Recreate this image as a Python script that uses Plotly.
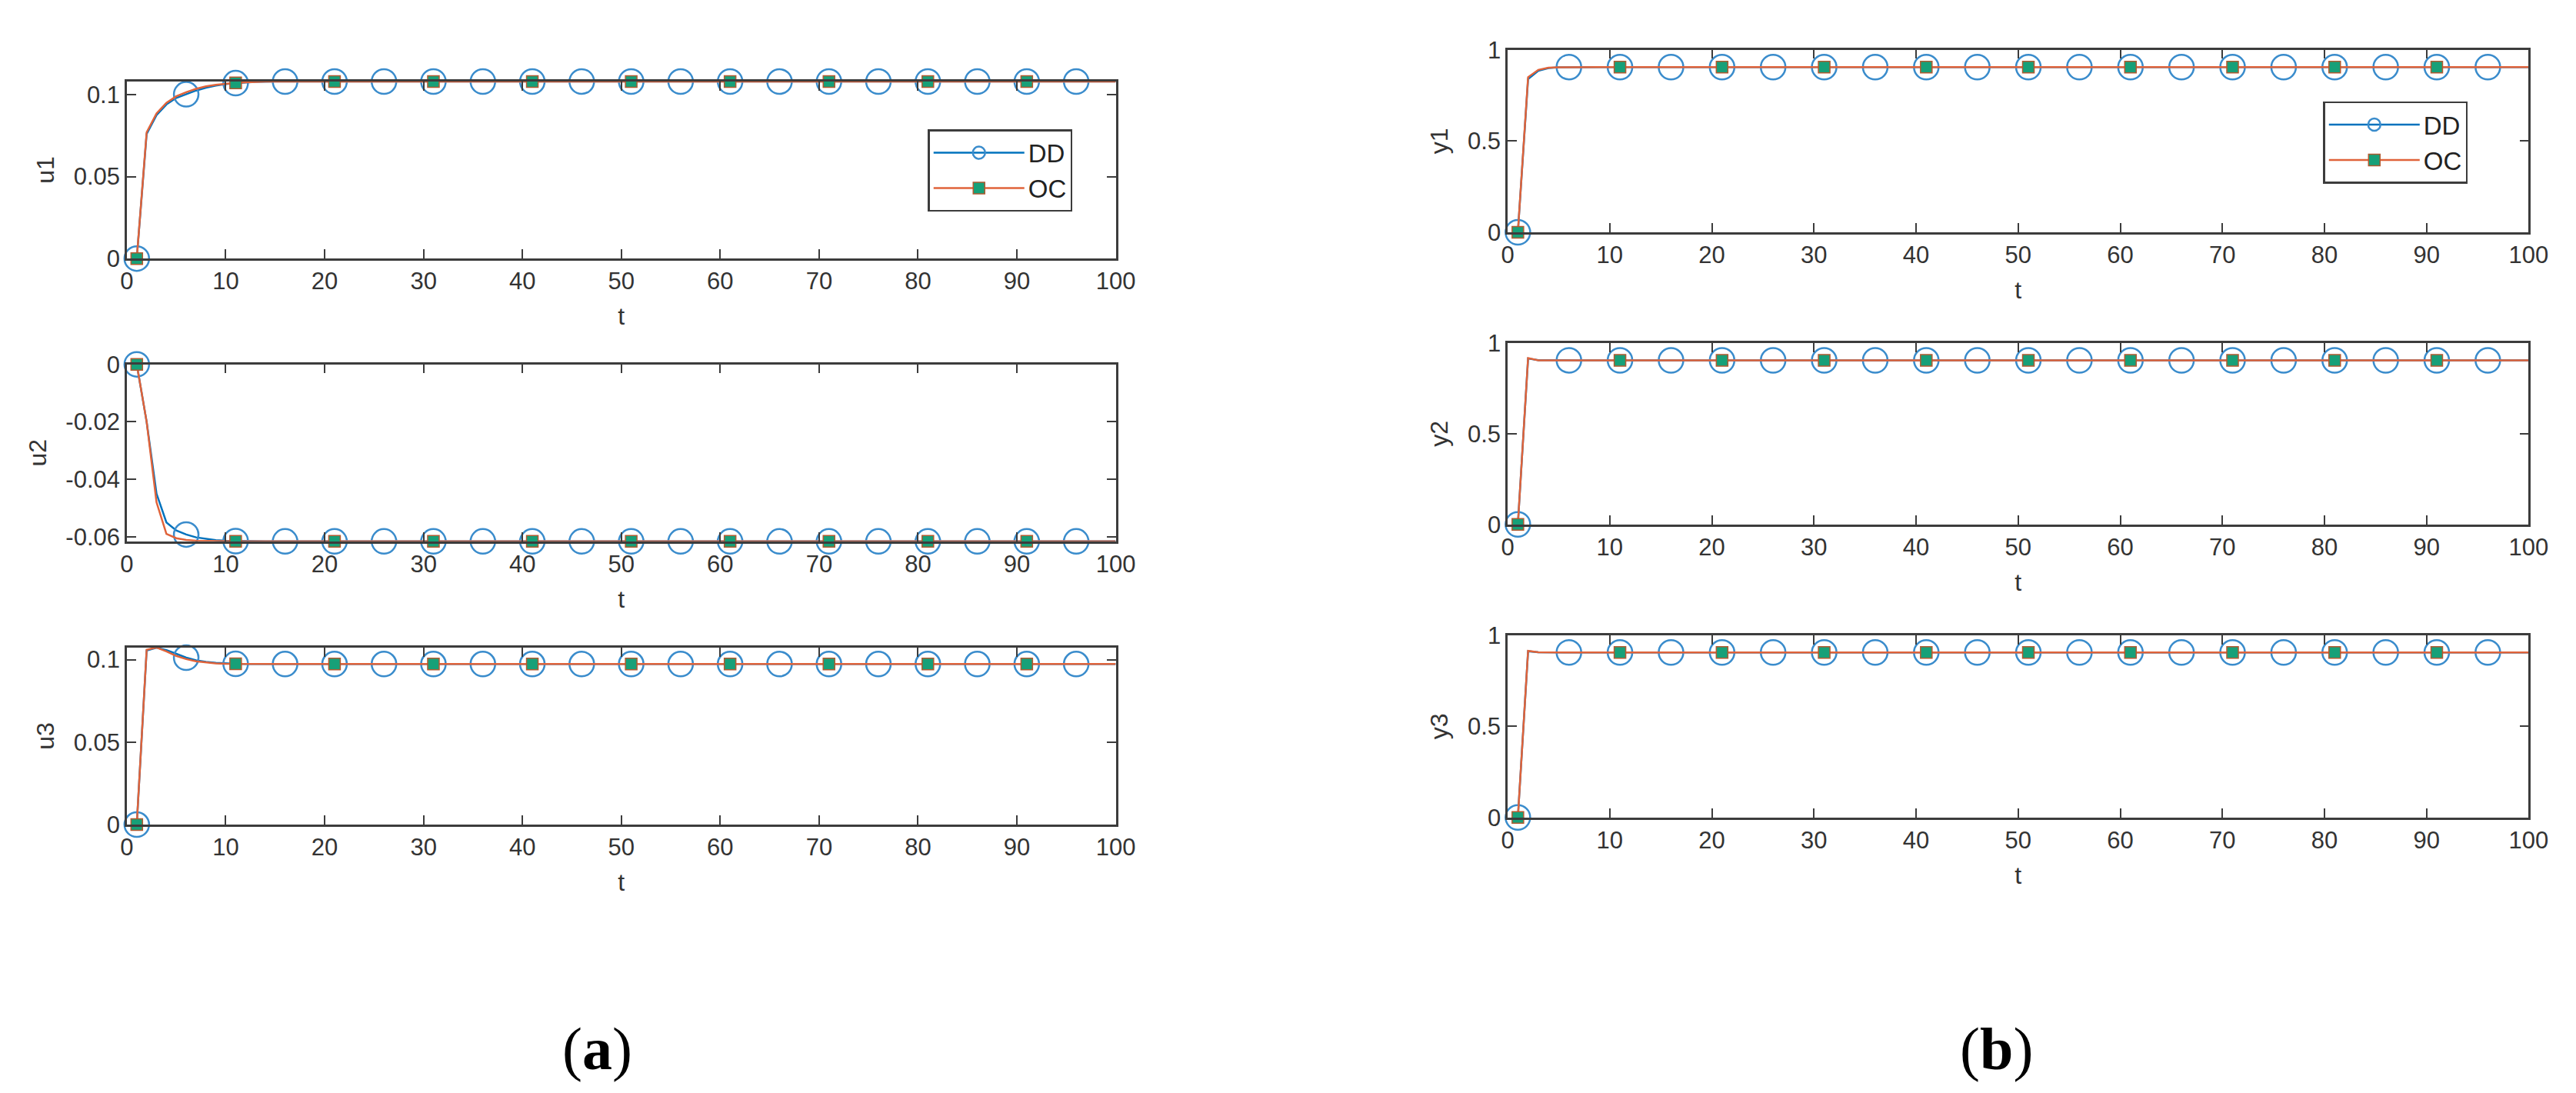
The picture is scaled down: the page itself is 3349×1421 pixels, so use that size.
import plotly.graph_objects as go

# time steps
t = list(range(1, 101))
n_steps = 100

# transient part of every response; after that the value stays flat
u1_dd = [0, 0.0760, 0.0875, 0.0940, 0.0980, 0.1002, 0.1025, 0.1042, 0.1055, 0.1064, 0.1070, 0.1074, 0.1077]
u1_oc = [0, 0.0770, 0.0885, 0.0950, 0.0990, 0.1015, 0.1035, 0.1050, 0.1060, 0.1067, 0.1072, 0.1075, 0.1078]
u1_end = 0.108

u2_dd = [0, -0.0200, -0.0450, -0.0550, -0.0578, -0.0592, -0.0602, -0.0608, -0.0612, -0.0614, -0.0615]
u2_oc = [0, -0.0200, -0.0480, -0.0590, -0.0605, -0.0611, -0.0614, -0.0615]
u2_end = -0.0616

u3_dd = [0, 0.1055, 0.1072, 0.1058, 0.1035, 0.1012, 0.0996, 0.0986, 0.0980, 0.0976, 0.0974]
u3_oc = [0, 0.1060, 0.1073, 0.1050, 0.1022, 0.1003, 0.0990, 0.0982, 0.0977, 0.0975, 0.0974]
u3_end = 0.0973

y1_dd = [0, 0.840, 0.885, 0.900, 0.904]
y1_oc = [0, 0.850, 0.890, 0.902, 0.904]
y1_end = 0.905

y2_dd = [0, 0.915, 0.906]
y2_oc = [0, 0.917, 0.905]
y2_end = 0.905

y3_dd = [0, 0.912, 0.906]
y3_oc = [0, 0.914, 0.906]
y3_end = 0.905

u_ticks = [0, 0.05, 0.1]
u_ticktext = ["0", "0.05", "0.1"]
u2_ticks = [-0.06, -0.04, -0.02, 0]
u2_ticktext = ["-0.06", "-0.04", "-0.02", "0"]
y_ticks = [0, 0.5, 1]
y_ticktext = ["0", "0.5", "1"]
x_ticks = list(range(0, 101, 10))


def hold(vals, end):
    return vals + [end] * (n_steps - len(vals))


W, H = 3349, 1421
blue = "#0072BD"
circ = "#3a8ccc"
orange = "#E0633A"
green = "#17a078"
font = "Liberation Sans, Arial, Helvetica, sans-serif"

# name, DD, OC, ticks, ticktext, range, x-pixels, y-pixels (top, bottom)
panels = [
    ("u1", hold(u1_dd, u1_end), hold(u1_oc, u1_end), u_ticks, u_ticktext, [0, u1_end], (149.5, 1448.7), (83, 319)),
    ("u2", hold(u2_dd, u2_end), hold(u2_oc, u2_end), u2_ticks, u2_ticktext, [u2_end, 0], (149.5, 1448.7), (460, 696)),
    ("u3", hold(u3_dd, u3_end), hold(u3_oc, u3_end), u_ticks, u_ticktext, [0, 0.1073], (149.5, 1448.7), (837.5, 1073.5)),
    ("y1", hold(y1_dd, y1_end), hold(y1_oc, y1_end), y_ticks, y_ticktext, [0, 1], (1963.6, 3305), (40.7, 284)),
    ("y2", hold(y2_dd, y2_end), hold(y2_oc, y2_end), y_ticks, y_ticktext, [0, 1], (1963.6, 3305), (431.7, 673.3)),
    ("y3", hold(y3_dd, y3_end), hold(y3_oc, y3_end), y_ticks, y_ticktext, [0, 1], (1963.6, 3305), (821, 1064)),
]

fig = go.Figure()

axis_style = dict(
    showline=True, linecolor="#3c3c3c", linewidth=2.5, mirror="ticks",
    ticks="inside", ticklen=12, tickwidth=2, tickcolor="#3c3c3c",
    showgrid=False, zeroline=False,
    tickfont=dict(family=font, size=31, color="#333333"),
)

for i, (name, dd, oc, yt, ytt, yr, xp, yp) in enumerate(panels, start=1):
    xa = "x" if i == 1 else f"x{i}"
    ya = "y" if i == 1 else f"y{i}"
    fig.add_trace(go.Scatter(x=t, y=dd, mode="lines", line=dict(color=blue, width=2.5),
                             xaxis=xa, yaxis=ya, showlegend=False, cliponaxis=False))
    fig.add_trace(go.Scatter(x=t[::5], y=dd[::5], mode="markers",
                             marker=dict(symbol="circle-open", size=32, color=circ, line=dict(width=2.5)),
                             xaxis=xa, yaxis=ya, showlegend=False, cliponaxis=False))
    fig.add_trace(go.Scatter(x=t, y=oc, mode="lines", line=dict(color=orange, width=2.5),
                             xaxis=xa, yaxis=ya, showlegend=False, cliponaxis=False))
    fig.add_trace(go.Scatter(x=t[::10], y=oc[::10], mode="markers",
                             marker=dict(symbol="square", size=15, color=green, line=dict(color="#b05a30", width=1.5)),
                             xaxis=xa, yaxis=ya, showlegend=False, cliponaxis=False))

    xkey = "xaxis" if i == 1 else f"xaxis{i}"
    ykey = "yaxis" if i == 1 else f"yaxis{i}"
    fig.update_layout({
        xkey: dict(axis_style, domain=[xp[0] / W, xp[1] / W], anchor=ya, range=[0, 100],
                   tickvals=x_ticks, title=dict(text="t", font=dict(family=font, size=32, color="#333333"), standoff=18)),
        ykey: dict(axis_style, domain=[1 - yp[1] / H, 1 - yp[0] / H], anchor=xa, range=yr,
                   tickvals=yt, ticktext=ytt, title=dict(text=name, font=dict(family=font, size=32, color="#333333"), standoff=16)),
    })

# legend entries for the two top panels
for lg, xa, ya in [("legend", "x", "y"), ("legend2", "x4", "y4")]:
    fig.add_trace(go.Scatter(x=[None], y=[None], mode="lines+markers", name="DD",
                             line=dict(color=blue, width=2.5),
                             marker=dict(symbol="circle-open", size=32, color=circ, line=dict(width=2.5)),
                             xaxis=xa, yaxis=ya, legend=lg))
    fig.add_trace(go.Scatter(x=[None], y=[None], mode="lines+markers", name="OC",
                             line=dict(color=orange, width=2.5),
                             marker=dict(symbol="square", size=15, color=green, line=dict(color="#b05a30", width=1.5)),
                             xaxis=xa, yaxis=ya, legend=lg))

legend_style = dict(bgcolor="white", bordercolor="#3c3c3c", borderwidth=2.5,
                    font=dict(family=font, size=33, color="#222222"),
                    xanchor="left", yanchor="top", itemwidth=118, tracegroupgap=0)
fig.update_layout(
    legend=dict(legend_style, x=1201.8 / W, y=1 - 146.7 / H),
    legend2=dict(legend_style, x=3035 / W, y=1 - 109.3 / H),
)

serif = "Liberation Serif, Times New Roman, serif"
fig.add_annotation(text="(<b>a</b>)", x=768 / W, y=1 - 1372 / H, xref="paper", yref="paper",
                   xanchor="center", yanchor="middle", showarrow=False,
                   font=dict(family=serif, size=78, color="black"))
fig.add_annotation(text="(<b>b</b>)", x=2606 / W, y=1 - 1372 / H, xref="paper", yref="paper",
                   xanchor="center", yanchor="middle", showarrow=False,
                   font=dict(family=serif, size=78, color="black"))

fig.update_layout(width=W, height=H, autosize=False, margin=dict(l=0, r=0, t=0, b=0),
                  plot_bgcolor="white", paper_bgcolor="white")

fig.write_html("out.html")
